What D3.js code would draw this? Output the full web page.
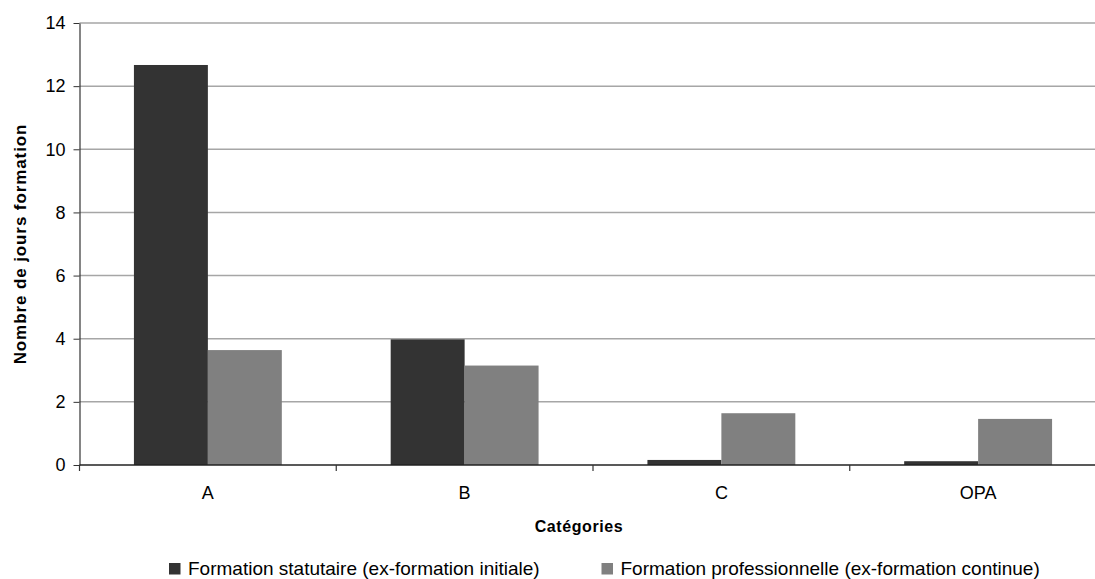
<!DOCTYPE html>
<html>
<head>
<meta charset="utf-8">
<script src="https://cdn.jsdelivr.net/npm/d3@7"></script>
<style>
  html, body { margin: 0; padding: 0; background: #fff; }
  svg { display: block; font-family: "Liberation Sans", Arial, sans-serif; }
</style>
</head>
<body>
<svg id="chart" width="1095" height="579"></svg>
<script>
// Training days per staff category
const categories = ["A", "B", "C", "OPA"];
const statutaire = [12.67, 3.98, 0.16, 0.12];
const professionnelle = [3.64, 3.15, 1.64, 1.46];
const seriesNames = [
  "Formation statutaire (ex-formation initiale)",
  "Formation professionnelle (ex-formation continue)"
];
const yTicks = [0, 2, 4, 6, 8, 10, 12, 14];
const colors = ["#333333", "#808080"];

const svg = d3.select("#chart");
const margin = { left: 79.5, top: 23 };
const plotW = 1027, plotH = 442;

const g = svg.append("g").attr("transform", `translate(${margin.left},${margin.top})`);

const x = d3.scaleBand().domain(categories).range([0, plotW]).paddingInner(0).paddingOuter(0);
const y = d3.scaleLinear().domain([0, 14]).range([plotH, 0]);
const inner = d3.scaleBand().domain([0, 1]).range([0, x.bandwidth() * 0.576]);
const groupOffset = (x.bandwidth() - inner.range()[1]) / 2;

// horizontal gridlines
g.append("g").selectAll("line").data(yTicks.filter(d => d > 0)).join("line")
  .attr("x1", 0).attr("x2", plotW)
  .attr("y1", d => y(d)).attr("y2", d => y(d))
  .attr("stroke", "#a6a6a6").attr("stroke-width", 1.5);

// bars
const data = categories.map((c, i) => ({ c, v: [statutaire[i], professionnelle[i]] }));
const groups = g.append("g").selectAll("g").data(data).join("g")
  .attr("transform", d => `translate(${x(d.c) + groupOffset},0)`);
groups.selectAll("rect").data(d => d.v.map((v, k) => ({ v, k }))).join("rect")
  .attr("x", d => inner(d.k))
  .attr("width", inner.bandwidth())
  .attr("y", d => y(d.v))
  .attr("height", d => plotH - y(d.v))
  .attr("fill", d => colors[d.k]);

// y axis
const yAxis = g.append("g").call(d3.axisLeft(y).tickValues(yTicks).tickSize(6).tickSizeOuter(0).tickPadding(8));
yAxis.select(".domain").attr("stroke", "#333").attr("stroke-width", 1.2);
yAxis.selectAll(".tick line").attr("stroke", "#333");
yAxis.selectAll("text").attr("font-size", 18).attr("fill", "#000")
  .style("font-family", "'Liberation Sans', Arial, sans-serif");

// x axis with separators between categories
const xAxisG = g.append("g").attr("transform", `translate(0,${plotH})`);
xAxisG.append("line").attr("x1", 0).attr("x2", plotW).attr("stroke", "#222").attr("stroke-width", 1.5);
xAxisG.selectAll("line.sep").data(categories).join("line").attr("class", "sep")
  .attr("x1", d => x(d)).attr("x2", d => x(d))
  .attr("y1", 0).attr("y2", 6).attr("stroke", "#333").attr("stroke-width", 1.2);
xAxisG.selectAll("text").data(categories).join("text")
  .attr("x", d => x(d) + x.bandwidth() / 2).attr("y", 34)
  .attr("text-anchor", "middle").attr("font-size", 18).attr("fill", "#000")
  .text(d => d);

// axis titles
svg.append("text")
  .attr("transform", `translate(26,${margin.top + plotH / 2}) rotate(-90)`)
  .attr("text-anchor", "middle").attr("font-size", 17).attr("font-weight", "bold")
  .attr("letter-spacing", 0.9).attr("fill", "#000")
  .text("Nombre de jours formation");
svg.append("text")
  .attr("x", 579).attr("y", 532)
  .attr("text-anchor", "middle").attr("font-size", 16).attr("font-weight", "bold")
  .attr("letter-spacing", 0.6).attr("fill", "#000")
  .text("Catégories");

// legend
const legendX = [169, 601.5];
const legend = svg.append("g").selectAll("g").data(seriesNames).join("g")
  .attr("transform", (d, i) => `translate(${legendX[i]},563)`);
legend.append("rect").attr("width", 11.5).attr("height", 11.5).attr("fill", (d, i) => colors[i]);
legend.append("text").attr("x", 19).attr("y", 12).attr("font-size", 19).attr("fill", "#000").text(d => d);
</script>
</body>
</html>
